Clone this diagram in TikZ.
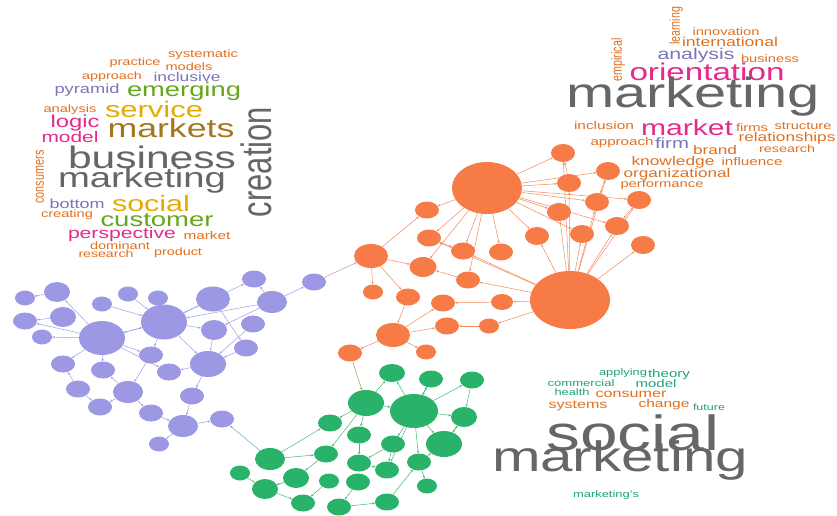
\documentclass[tikz,border=0pt]{standalone}
\usepackage{graphicx}
\usepackage{fontspec}
\setmainfont{Liberation Sans}
\usetikzlibrary{shapes.geometric,arrows.meta,backgrounds}
\definecolor{dteal}{HTML}{1FA37C}
\definecolor{dorange}{HTML}{E2701E}
\definecolor{dpurple}{HTML}{7A75BA}
\definecolor{dpink}{HTML}{E7298A}
\definecolor{dgreen}{HTML}{66A61E}
\definecolor{dgold}{HTML}{E6AB02}
\definecolor{dbrown}{HTML}{A6761D}
\definecolor{dgray}{HTML}{666666}
\definecolor{pcol}{HTML}{9C98E4}
\definecolor{ocol}{HTML}{F77B46}
\definecolor{gcol}{HTML}{29B36A}
\definecolor{pedge}{HTML}{A19DEA}
\definecolor{oedge}{HTML}{F5895C}
\definecolor{gedge}{HTML}{3DBB76}
\definecolor{mauve}{HTML}{C495B8}
\definecolor{olive}{HTML}{A0A050}
\definecolor{steel}{HTML}{6AAFC0}
\font\wcmeasure="Liberation Sans:mapping=tex-text" at 10pt
\newbox\wcbox
\def\wcsq{0.73}
\def\wcst{1.37}
\newcommand\wc[6]{%
  \setbox\wcbox=\hbox{\wcmeasure #6}%
  \pgfmathsetmacro\wcs{10*#4/\wd\wcbox}%
  \pgfmathsetmacro\wcy{#3+0.26*\wcsq*\wcs}%
  \node[word, text=#5, font=\fontsize{\wcs pt}{\wcs pt}\selectfont] (#1) at (#2,\wcy) {\scalebox{1}[\wcsq]{#6}};%
}
\newcommand\wcv[6]{%
  \setbox\wcbox=\hbox{\wcmeasure #6}%
  \pgfmathsetmacro\wcs{10*#4/\wd\wcbox}%
  \pgfmathsetmacro\wcx{#2+0.26*\wcst*\wcs}%
  \node[word, rotate=90, text=#5, font=\fontsize{\wcs pt}{\wcs pt}\selectfont] (#1) at (\wcx,#3) {\scalebox{1}[\wcst]{#6}};%
}
\tikzset{
  word/.style={anchor=base, inner sep=0pt, outer sep=0pt},
  pn/.style 2 args={ellipse, fill=pcol, inner sep=0pt, minimum width=#1pt, minimum height=#2pt},
  on/.style 2 args={ellipse, fill=ocol, inner sep=0pt, minimum width=#1pt, minimum height=#2pt},
  gn/.style 2 args={ellipse, fill=gcol, inner sep=0pt, minimum width=#1pt, minimum height=#2pt},
  tip/.style={-{Stealth[length=2.6pt,width=2.2pt]}},
  pe/.style={tip, draw=pedge, line width=0.5pt},
  oe/.style={tip, draw=oedge, line width=0.5pt},
  ge/.style={tip, draw=gedge, line width=0.5pt},
}
\begin{document}
\begin{tikzpicture}[x=1pt,y=-1pt]
\useasboundingbox (0,0) rectangle (837,516);
% ---------------- purple cluster
\node[pn={20}{15}] (p1) at (25,298) {};
\node[pn={26}{20}] (p2) at (57,292) {};
\node[pn={24}{17}] (p3) at (25,321) {};
\node[pn={26}{20}] (p4) at (63,317) {};
\node[pn={20}{15}] (p5) at (42,337) {};
\node[pn={20}{15}] (p6) at (102,304) {};
\node[pn={20}{15}] (p7) at (128,294) {};
\node[pn={20}{15}] (p8) at (158,298) {};
\node[pn={46}{34}] (p9) at (102,338) {};
\node[pn={46}{35}] (p10) at (164,322) {};
\node[pn={34}{25}] (p11) at (213,299) {};
\node[pn={24}{17}] (p12) at (254,279) {};
\node[pn={30}{22}] (p13) at (272,302) {};
\node[pn={26}{20}] (p14) at (214,330) {};
\node[pn={24}{17}] (p15) at (253,324) {};
\node[pn={24}{17}] (p16) at (246,348) {};
\node[pn={24}{17}] (p17) at (151,355) {};
\node[pn={24}{17}] (p18) at (63,364) {};
\node[pn={24}{17}] (p19) at (103,370) {};
\node[pn={24}{17}] (p20) at (169,372) {};
\node[pn={36}{26}] (p21) at (208,364) {};
\node[pn={24}{17}] (p22) at (78,389) {};
\node[pn={30}{22}] (p23) at (128,392) {};
\node[pn={24}{17}] (p24) at (100,407) {};
\node[pn={24}{17}] (p25) at (192,396) {};
\node[pn={24}{17}] (p26) at (151,413) {};
\node[pn={30}{22}] (p27) at (183,426) {};
\node[pn={24}{17}] (p28) at (222,419) {};
\node[pn={20}{15}] (p29) at (159,444) {};
\node[pn={24}{17}] (p30) at (314,282) {};
% ---------------- orange cluster
\node[on={70}{52}] (o1) at (487,188) {};
\node[on={24}{18}] (o2) at (563,153) {};
\node[on={24}{18}] (o3) at (608,171) {};
\node[on={24}{18}] (o4) at (569,183) {};
\node[on={24}{18}] (o5) at (597,202) {};
\node[on={24}{18}] (o6) at (639,200) {};
\node[on={24}{18}] (o7) at (559,212) {};
\node[on={24}{18}] (o8) at (617,226) {};
\node[on={24}{18}] (o9) at (537,236) {};
\node[on={24}{18}] (o10) at (582,234) {};
\node[on={24}{18}] (o11) at (643,245) {};
\node[on={24}{17}] (o12) at (427,210) {};
\node[on={24}{17}] (o13) at (429,238) {};
\node[on={24}{17}] (o14) at (463,251) {};
\node[on={24}{17}] (o15) at (501,252) {};
\node[on={34}{24}] (o16) at (371,256) {};
\node[on={27}{20}] (o17) at (423,267) {};
\node[on={24}{17}] (o18) at (468,280) {};
\node[on={80}{58}] (o19) at (570,300) {};
\node[on={20}{15}] (o20) at (373,292) {};
\node[on={24}{17}] (o21) at (408,297) {};
\node[on={24}{17}] (o22) at (443,303) {};
\node[on={22}{16}] (o23) at (502,302) {};
\node[on={34}{24}] (o24) at (393,335) {};
\node[on={24}{17}] (o25) at (447,326) {};
\node[on={20}{15}] (o26) at (489,326) {};
\node[on={24}{17}] (o27) at (350,353) {};
\node[on={20}{15}] (o28) at (426,352) {};
% ---------------- green cluster
\node[gn={26}{18}] (g1) at (392,373) {};
\node[gn={24}{17}] (g2) at (431,379) {};
\node[gn={24}{17}] (g3) at (472,380) {};
\node[gn={36}{26}] (g4) at (366,403) {};
\node[gn={48}{34}] (g5) at (414,411) {};
\node[gn={26}{20}] (g6) at (464,417) {};
\node[gn={24}{17}] (g7) at (330,423) {};
\node[gn={24}{17}] (g8) at (359,435) {};
\node[gn={36}{26}] (g9) at (444,444) {};
\node[gn={24}{17}] (g10) at (393,444) {};
\node[gn={30}{22}] (g11) at (270,459) {};
\node[gn={24}{17}] (g12) at (326,454) {};
\node[gn={24}{17}] (g13) at (359,463) {};
\node[gn={24}{17}] (g14) at (419,462) {};
\node[gn={24}{17}] (g15) at (387,470) {};
\node[gn={20}{15}] (g16) at (240,473) {};
\node[gn={26}{20}] (g17) at (296,478) {};
\node[gn={20}{15}] (g18) at (329,481) {};
\node[gn={24}{17}] (g19) at (358,482) {};
\node[gn={26}{20}] (g20) at (265,489) {};
\node[gn={20}{15}] (g21) at (427,486) {};
\node[gn={24}{17}] (g22) at (303,503) {};
\node[gn={24}{17}] (g23) at (339,507) {};
\node[gn={24}{17}] (g24) at (387,502) {};
% ---------------- edges
\begin{scope}[on background layer]
\fill[white] (0,0) rectangle (837,516);
\foreach \a/\b in {p2/p1,p4/p3,p9/p2,p9/p3,p9/p5,p6/p10,p7/p10,p8/p10,p9/p10,p10/p9,
  p9/p17,p9/p18,p9/p19,p9/p20,p10/p11,p10/p14,p13/p10,p10/p21,p10/p17,p17/p23,
  p11/p12,p11/p16,p13/p12,p13/p14,p15/p21,p16/p21,p14/p21,p11/p10,p21/p20,p21/p25,
  p25/p27,p26/p27,p27/p29,p27/p28,p23/p24,p22/p18,p22/p24,p23/p19,p23/p26,p13/p30}
  \draw[pe] (\a) -- (\b);
\foreach \a/\b in {o1/o2,o1/o3,o1/o4,o1/o5,o1/o6,o1/o7,o1/o8,o1/o9,o1/o10,o1/o12,o1/o13,
  o1/o14,o1/o15,o1/o17,o1/o18,o19/o2,o19/o4,o19/o3,o19/o5,o19/o6,o19/o8,o19/o11,
  o19/o10,o19/o7,o19/o9,o19/o14,o19/o13,o19/o18,o19/o23,o19/o26,o4/o2,o3/o5,o6/o8,
  o16/o12,o16/o17,o16/o20,o16/o21,o21/o24,o24/o22,o24/o25,o24/o27,o24/o28,o23/o22,
  o26/o25,o13/o14,o18/o17}
  \draw[oe] (\a) -- (\b);
\foreach \a/\b in {g4/g1,g5/g1,g5/g2,g5/g3,g5/g6,g5/g9,g5/g10,g5/g14,g5/g15,g4/g5,
  g4/g7,g4/g8,g4/g12,g3/g6,g6/g9,g9/g6,g11/g7,g11/g12,g8/g13,g10/g13,g10/g15,g12/g17,
  g16/g20,g17/g20,g20/g22,g18/g22,g19/g23,g23/g24,g24/g14,g14/g21,g14/g9,g13/g15,g2/g5}
  \draw[ge] (\a) -- (\b);
\draw[tip, draw=mauve, line width=0.5pt] (p30) -- (o16);
\draw[tip, draw=olive, line width=0.5pt] (o27) -- (g4);
\draw[tip, draw=steel, line width=0.5pt] (g11) -- (p28);
\end{scope}
% ---------------- left word cloud
\wc{a1}{203}{55}{70}{dorange}{systematic}
\wc{a2}{135}{63}{51}{dorange}{practice}
\wc{a3}{189}{68}{47}{dorange}{models}
\wc{a4}{112}{77}{60}{dorange}{approach}
\wc{a5}{187}{78}{67}{dpurple}{inclusive}
\wc{a6}{87}{90}{65}{dpurple}{pyramid}
\wc{a7}{184}{91}{114}{dgreen}{emerging}
\wc{a8}{70}{110}{53}{dorange}{analysis}
\wc{a9}{154}{112}{98}{dgold}{service}
\wc{a10}{75}{123}{49}{dpink}{logic}
\wc{a11}{171}{131}{127}{dbrown}{markets}
\wc{a12}{70}{139}{57}{dpink}{model}
\wc{a13}{152}{160}{168}{dgray}{business}
\wc{a14}{142}{180}{168}{dgray}{marketing}
\wcv{a15}{40}{177}{53}{dorange}{consumers}
\wcv{a16}{260}{162}{110}{dgray}{creation}
\wc{a17}{77}{205}{55}{dpurple}{bottom}
\wc{a18}{151}{206}{78}{dgold}{social}
\wc{a19}{67}{215}{52}{dorange}{creating}
\wc{a20}{157}{221}{113}{dgreen}{customer}
\wc{a21}{122}{234}{108}{dpink}{perspective}
\wc{a22}{207}{237}{47}{dorange}{market}
\wc{a23}{120}{247}{60}{dorange}{dominant}
\wc{a24}{106}{255}{55}{dorange}{research}
\wc{a25}{178}{253}{48}{dorange}{product}
% ---------------- top right word cloud
\wcv{b1}{676}{26}{38}{dorange}{learning}
\wc{b2}{726}{33}{67}{dorange}{innovation}
\wc{b3}{730}{43}{96}{dorange}{international}
\wcv{b4}{618}{60}{43}{dorange}{empirical}
\wc{b5}{696}{55}{77}{dpurple}{analysis}
\wc{b6}{770}{60}{58}{dorange}{business}
\wc{b7}{707}{74}{155}{dpink}{orientation}
\wc{b8}{693}{97}{254}{dgray}{marketing}
\wc{b9}{604}{127}{60}{dorange}{inclusion}
\wc{b10}{687}{130}{92}{dpink}{market}
\wc{b11}{752}{129}{32}{dorange}{firms}
\wc{b12}{803}{127}{57}{dorange}{structure}
\wc{b13}{622}{143}{63}{dorange}{approach}
\wc{b14}{672}{145}{34}{dpurple}{firm}
\wc{b15}{787}{138}{97}{dorange}{relationships}
\wc{b16}{715}{151}{44}{dorange}{brand}
\wc{b17}{787}{150}{56}{dorange}{research}
\wc{b18}{673}{162}{83}{dorange}{knowledge}
\wc{b19}{752}{163}{61}{dorange}{influence}
\wc{b20}{677}{174}{107}{dorange}{organizational}
\wc{b21}{662}{185}{83}{dorange}{performance}
% ---------------- bottom right word cloud
\wc{c1}{623}{373}{48}{dteal}{applying}
\wc{c2}{669}{375}{42}{dteal}{theory}
\wc{c3}{581}{384}{67}{dteal}{commercial}
\wc{c4}{656}{385}{41}{dteal}{model}
\wc{c5}{572}{393}{35}{dteal}{health}
\wc{c6}{631}{394}{71}{dorange}{consumer}
\wc{c7}{578}{405}{59}{dorange}{systems}
\wc{c8}{664}{405}{51}{dorange}{change}
\wc{c9}{709}{408}{32}{dteal}{future}
\wc{c10}{633}{438}{173}{dgray}{social}
\wc{c11}{620}{460}{256}{dgray}{marketing}
\wc{c12}{606}{495}{66}{dteal}{marketing's}
\end{tikzpicture}
\end{document}
